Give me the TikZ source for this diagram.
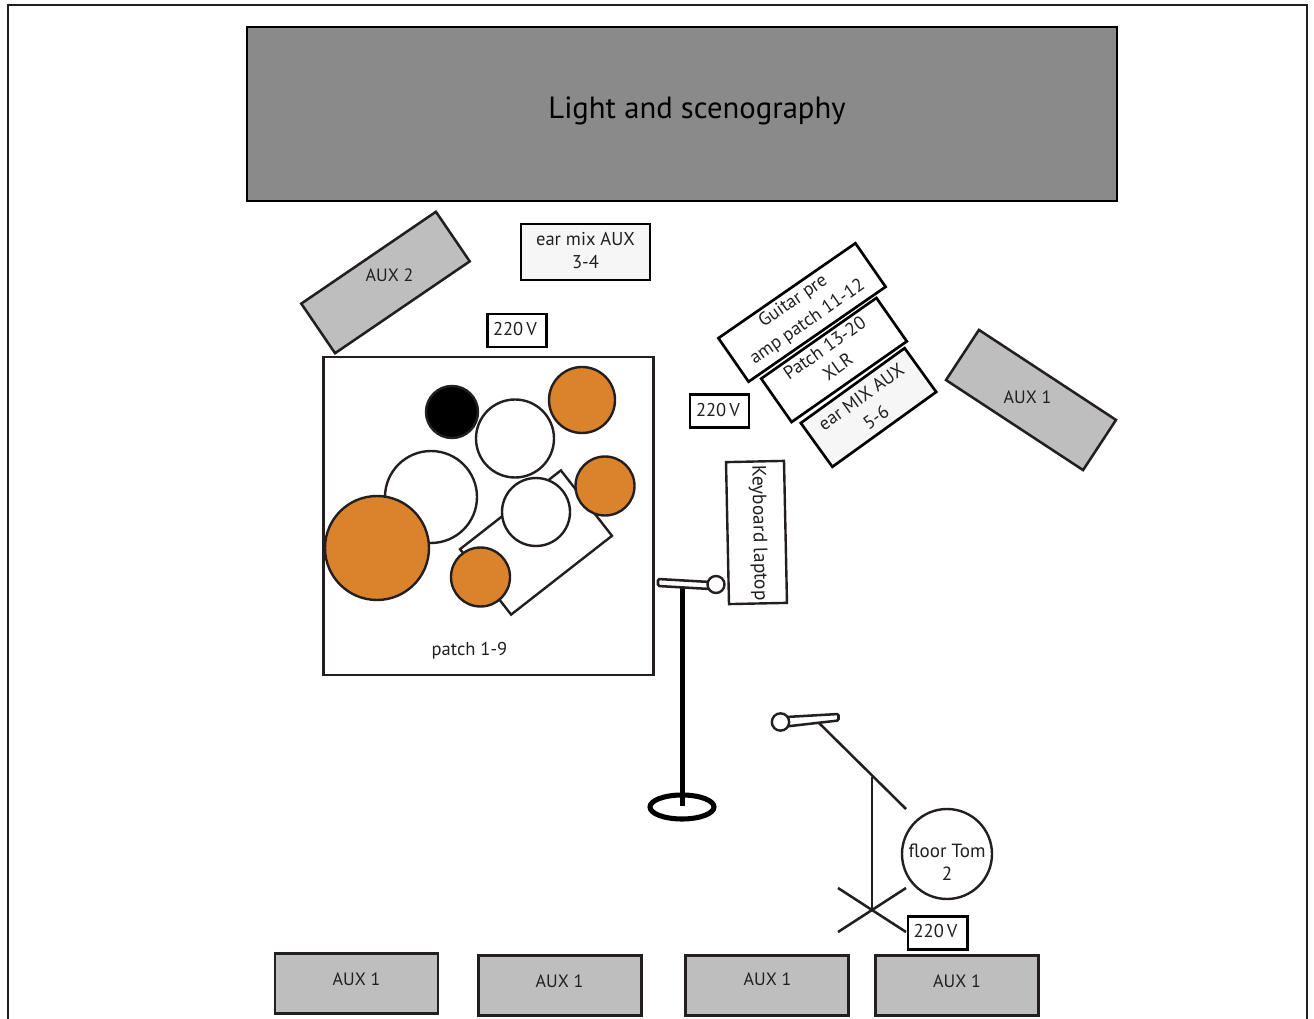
\documentclass[tikz,border=0pt]{standalone}
\usepackage{fontspec}
\setmainfont{PT Sans}
\definecolor{ink}{HTML}{231F20}
\definecolor{auxgray}{HTML}{BEBEBE}
\definecolor{stagegray}{HTML}{8A8A8A}
\definecolor{lightbox}{HTML}{F6F6F6}
\definecolor{drum}{HTML}{DA832B}
\tikzset{
  px/.style={x=0.75pt,y=-0.75pt},
  txt/.style={inner sep=0pt,font=\fontsize{13.9}{17.25}\selectfont,text=ink,align=center},
  auxtxt/.style={txt,font=\fontsize{13.4}{17.25}\selectfont},
  wide/.style={txt,font=\fontsize{13.9}{18.9}\selectfont},
  box/.style={draw=ink,line width=1.8pt,inner sep=0pt,outer sep=0pt,rectangle,txt},
  auxbox/.style={box,fill=auxgray,line width=1.9pt},
  powerbox/.style={box,draw=black,fill=white,line width=2pt,minimum width=44.25pt,minimum height=24.75pt},
  thinbox/.style={box,draw=black,fill=white,line width=2pt},
  earbox/.style={thinbox,fill=lightbox},
  drumw/.style={circle,draw=ink,fill=white,line width=1.8pt,inner sep=0pt},
  drumo/.style={circle,draw=ink,fill=drum,line width=1.8pt,inner sep=0pt},
  standthin/.style={draw=ink,line width=1.9pt},
}
\begin{document}
\begin{tikzpicture}[px]
\useasboundingbox (0,0) rectangle (1314,1019);
\clip (0,0) rectangle (1314,1019);
\fill[white] (0,0) rectangle (1314,1019);
\coordinate (fa) at (8,1040);\coordinate (fb) at (8,5);\coordinate (fc) at (1307,5);\coordinate (fd) at (1307,1040);
\draw[ink,line width=1.9pt] (fa)--(fb)--(fc)--(fd);

% stage
\node[box,draw=black,fill=stagegray,line width=1.9pt,minimum width=652.5pt,minimum height=130.5pt] (stage) at (682,114) {};
\node[txt,font=\fontsize{23}{27}\selectfont,text=black] (stagetxt) at (697,111) {Light and scenography};

% upper left
\node[auxbox,rotate=34.3,minimum width=122.25pt,minimum height=45pt] (aux2) at (385.5,282.5) {};
\node[auxtxt] (aux2t) at (389.5,275) {AUX 2};
\node[earbox,minimum width=96.75pt,minimum height=42pt] (earmix) at (585.5,252) {};
\node[txt] (earmixt) at (585.5,250.5) {ear mix AUX\\3-4};
\node[powerbox] (p1) at (517,330.5) {};
\node[txt] (p1t) at (515,329) {220\,V};

% drum riser
\node[box,minimum width=247.5pt,minimum height=238.5pt] (riser) at (488.5,516) {};
\node[box,fill=white,rotate=38,minimum width=96pt,minimum height=62.25pt] (kit) at (536,542.5) {};
\node[drumw,minimum size=69pt] (bigw) at (431,497) {};
\node[drumo,minimum size=78pt] (bigo) at (377,548) {};
\node[circle,draw=ink,fill=black,line width=1.8pt,inner sep=0pt,minimum size=39pt] (blk) at (452,412) {};
\node[drumw,minimum size=58.5pt] (w1) at (515,438.5) {};
\node[drumo,minimum size=49.5pt] (o1) at (582,400) {};
\node[drumw,minimum size=51pt] (w2) at (536,512) {};
\node[drumo,minimum size=44.25pt] (o2) at (605,486) {};
\node[drumo,minimum size=44.25pt] (o3) at (480.5,577) {};
\node[txt] (patch) at (469.5,651) {patch 1-9};

% right group
\node[thinbox,rotate=34.7,minimum width=125pt,minimum height=39.75pt] (guitar) at (802,312.5) {};
\node[wide,rotate=34.7] (guitart) at (800.5,312) {Guitar pre\\amp patch 11-12};
\node[thinbox,rotate=35,minimum width=105.5pt,minimum height=39.75pt] (patchx) at (834,360) {};
\node[txt,rotate=35] (patchxt) at (831,357) {Patch 13-20\\XLR};
\node[earbox,rotate=35.8,minimum width=96pt,minimum height=40.5pt] (earaux) at (868.5,407.5) {};
\node[wide,rotate=35.8] (earauxt) at (868.5,407) {ear MIX AUX\\5-6};
\node[powerbox] (p2) at (719.5,411) {};
\node[txt] (p2t) at (718,410) {220\,V};
\node[auxbox,rotate=-33.3,minimum width=123pt,minimum height=45pt] (aux1r) at (1031,400) {};
\node[auxtxt] (aux1rt) at (1027.5,397) {AUX 1};
\node[box,rotate=-88.8,minimum width=106.5pt,minimum height=43.5pt] (kb) at (756.5,532.5) {};
\node[txt,rotate=-88.8,font=\fontsize{14.6}{17.25}\selectfont] (kbt) at (758.5,533) {Keyboard laptop};

% mic stand 1
\coordinate (s1top) at (682.5,588);\coordinate (s1bot) at (682.5,806);
\draw[black,line width=3.8pt] (682,807) ellipse [x radius=32,y radius=12];
\draw[black,line width=3.8pt] (s1top)--(s1bot);
\draw[standthin,fill=white,rounded corners=1pt] (658,579)--(710,582)--(710,589)--(658,586)--cycle;
\node[drumw,minimum size=12.75pt] (m1) at (716,584.5) {};

% mic stand 2
\coordinate (b1) at (819,723);\coordinate (b2) at (906,809);
\coordinate (v1) at (872,777);\coordinate (v2) at (872,910);
\coordinate (c1) at (838,888);\coordinate (c2) at (906,932);
\coordinate (c3) at (838,932);\coordinate (c4) at (906,888);
\draw[standthin] (b1)--(b2);
\draw[standthin] (v1)--(v2);
\draw[standthin] (c1)--(c2);
\draw[standthin] (c3)--(c4);
\draw[standthin,fill=white,rounded corners=1pt] (786,717)--(838.5,714)--(838.5,720.5)--(786,726.5)--cycle;
\node[drumw,minimum size=13pt] (m2) at (780.5,722) {};
\node[drumw,minimum size=67.5pt] (tom) at (947,854) {};
\node[txt,font=\fontsize{14.3}{17.25}\selectfont] (tomt) at (947,862) {floor Tom\\2};
\node[powerbox,minimum width=44.5pt] (p3) at (937.5,933) {};
\node[txt] (p3t) at (935.5,931) {220\,V};

% bottom
\node[auxbox,minimum width=122.25pt,minimum height=45pt] (a1) at (356.5,983.5) {};
\node[auxtxt] (a1t) at (356.5,979) {AUX 1};
\node[auxbox,minimum width=122.25pt,minimum height=45pt] (a2) at (560,985.5) {};
\node[auxtxt] (a2t) at (559.5,981) {AUX 1};
\node[auxbox,minimum width=122.25pt,minimum height=45pt] (a3) at (767,985.5) {};
\node[auxtxt] (a3t) at (767.5,979) {AUX 1};
\node[auxbox,minimum width=122.25pt,minimum height=45pt] (a4) at (957,985.5) {};
\node[auxtxt] (a4t) at (957,981) {AUX 1};
\end{tikzpicture}
\end{document}
